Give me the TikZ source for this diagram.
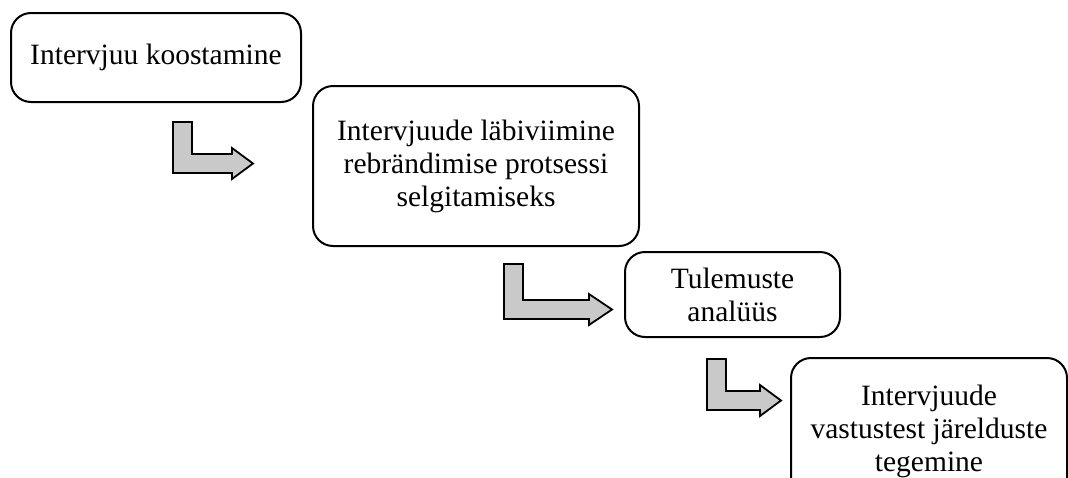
\documentclass[tikz,border=0pt]{standalone}
\usepackage{fontspec}
\setmainfont{Liberation Serif}
\begin{document}
\begin{tikzpicture}[x=1pt,y=-1pt,
  stepbox/.style={draw=black, line width=2pt, rounded corners=20pt, fill=white,
    anchor=north west, align=center, inner sep=0pt,
    font=\fontsize{29.5}{33}\selectfont},
  bentarrow/.style={draw=black, line width=1.8pt, fill=black!21, line join=miter},
  % L-shaped block arrow: pic origin is the top-left corner of the upright bar
  pics/bentarrow/.style args={#1/#2/#3}{code={
    % #1 bar drop to shaft top, #2 shaft length, #3 head length
    \path[bentarrow] (0,0) -- (19,0) -- (19,#1) -- (19+#2,#1) -- (19+#2,#1-6)
      -- (19+#2+#3,#1+9.5) -- (19+#2,#1+25) -- (19+#2,#1+19) -- (0,#1+19) -- cycle;
  }}]
\useasboundingbox (0,0) rectangle (1068,477);
\clip (0,0) rectangle (1068,477);

\node[stepbox, minimum width=290pt, minimum height=89pt] (koost) at (10,12)
  {Intervjuu koostamine};
\node[stepbox, minimum width=326pt, minimum height=160pt] (labi) at (312,85)
  {Intervjuude läbiviimine\\rebrändimise protsessi\\selgitamiseks};
\node[stepbox, minimum width=215pt, minimum height=85pt] (anal) at (624,251)
  {Tulemuste\\analüüs};
\node[stepbox, minimum width=276pt, minimum height=146pt] (jarel) at (790,357)
  {Intervjuude\\vastustest järelduste\\tegemine};

% block arrows between the steps
\pic at (173,122) {bentarrow=32/40/21};
\pic at (504,264) {bentarrow=36/66/23};
\pic at (707,359) {bentarrow=32/34/21};
\end{tikzpicture}
\end{document}
